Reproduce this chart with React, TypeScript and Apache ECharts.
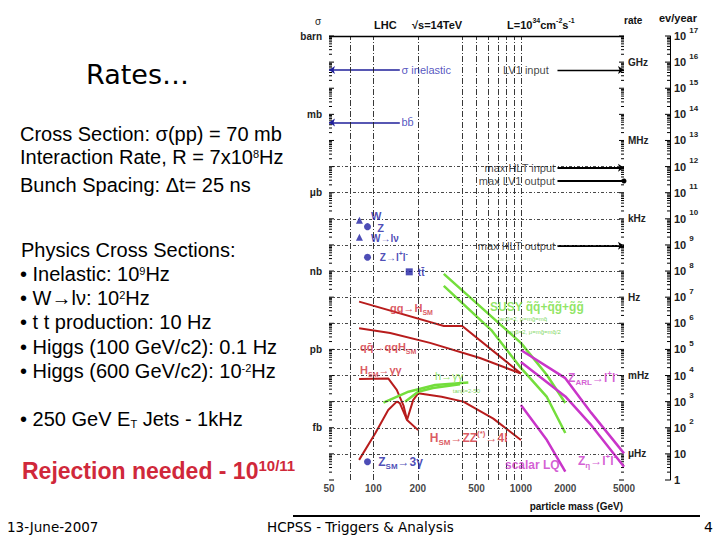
import React, { useEffect, useRef } from 'react';
import * as echarts from 'echarts';

// ---------------- axes ----------------
const massTickValues = [50, 100, 200, 500, 1000, 2000, 5000];
const massGridValues = [70, 100, 200, 400, 500, 600, 700, 800, 900, 1000];
const rateGridDecades = [1, 2, 3, 4, 5, 6, 7, 8, 9, 10, 11, 12];
const decadeMin = 0;
const decadeMax = 17;
const sigmaUnitDecades = [17, 14, 11, 8, 5, 2];
const sigmaUnitNames = ['barn', 'mb', 'μb', 'nb', 'pb', 'fb'];
const rateUnitDecades = [16, 13, 10, 7, 4, 1];
const rateUnitNames = ['GHz', 'MHz', 'kHz', 'Hz', 'mHz', 'μHz'];
const minorTickFactors = [2, 3, 4, 5, 6, 7, 8, 9];

// ---------------- data: [mass (GeV), log10(events / year)] ----------------
const ggToH = [[80, 6.83], [300, 5.9], [400, 5.9], [1000, 4.08]];
const qqToqqH = [[80, 5.81], [130, 5.63], [242, 5.25], [528, 4.67], [1000, 4.08]];
const hToGammaGamma = [[80, 3.87], [126, 3.89], [144, 3.45], [160, 2.85], [169, 2.3], [201, 1.91]];
const hToZZ = [[80, 0.77], [103, 1.79], [126, 2.68], [144, 3.0], [151, 2.94], [169, 2.3], [186, 3.06], [201, 3.32], [290, 3.19], [407, 3.0], [650, 2.35], [1000, 1.53]];
const mssmGammaGammaA = [[117, 2.96], [173, 3.38], [262, 3.64], [440, 3.73]];
const mssmGammaGammaB = [[164, 3.0], [201, 3.38], [253, 3.52], [386, 3.67]];
const susyA = [[300, 7.89], [1000, 5.25], [1500, 4.02], [2000, 2.95]];
const susyB = [[300, 7.43], [630, 5.74], [1000, 4.29], [1500, 3.18], [2000, 1.8]];
const zArl = [[1000, 4.98], [2000, 3.9], [3000, 2.57], [5000, 1.02]];
const zEta = [[1000, 4.52], [2000, 3.2], [3000, 2.1], [5000, 0.51]];
const scalarLQ = [[1000, 2.87], [1500, 1.53], [2000, 0.32]];

const wPoints = [[80.4, 9.95], [80.4, 9.29]]; // W, W→lν
const zPoints = [[91.2, 9.7], [91.2, 8.53], [91.2, 0.7]]; // Z, Z→ll, Z→3γ
const ttPoints = [[175, 7.97]];

// reference levels (log10 events / year) and arrow starts (GeV)
const sigmaInelasticLevel = 15.7;
const bbbarLevel = 13.69;
const lv1InputLevel = 15.7;
const maxHltInputLevel = 11.96;
const maxLv1OutputLevel = 11.45;
const maxHltOutputLevel = 8.97;
const leftArrowStart = 151;
const leftArrowEnd = 50;
const rightArrowStart = 1770;
const rightArrowEnd = 5000;

// annotation texts and their anchor in data coordinates
const annotations = [
  { text: 'σ inelastic', at: [155, 15.7], kind: 'blueThin' },
  { text: 'bb\u0304', at: [155, 13.69], kind: 'blueThin' },
  { text: 'LV1 input', at: [757, 15.7], kind: 'black' },
  { text: 'max HLT input', at: [1705, 11.96], kind: 'black', right: true },
  { text: 'max LV1 output', at: [1705, 11.45], kind: 'black', right: true },
  { text: 'max HLT output', at: [1705, 8.97], kind: 'black', right: true },
  { text: 'W', at: [96.4, 10.1], kind: 'blue' },
  { text: 'Z', at: [106, 9.66], kind: 'blue' },
  { text: 'W→lν', at: [96.4, 9.25], kind: 'blueSmall' },
  { text: 'Z→l{sup|+}l{sup|-}', at: [110.6, 8.52], kind: 'blueSmall' },
  { text: 'tt\u0304', at: [200, 7.96], kind: 'blueSmall' },
  { text: 'Z{sub|SM}→3γ', at: [107.8, 0.7], kind: 'blueBig' },
  { text: 'gg→H{sub|SM}', at: [129.6, 6.58], kind: 'red' },
  { text: 'qq\u0304→qqH{sub|SM}', at: [81.2, 5.1], kind: 'red' },
  { text: 'H{sub|SM}→γγ', at: [81.2, 4.21], kind: 'red' },
  { text: 'H{sub|SM}→ZZ{sup|(*)}→4l', at: [241, 1.61], kind: 'redBig' },
  { text: 'SUSY q\u0303q\u0303+q\u0303g\u0303+g\u0303g\u0303', at: [617, 6.63], kind: 'green' },
  { text: 'tanβ=2, μ=mg\u0303=mq\u0303', at: [699, 6.16], kind: 'greenTiny' },
  { text: 'tanβ=2, μ=mg\u0303=mq\u0303/2', at: [803, 5.68], kind: 'greenTiny' },
  { text: 'h→γγ', at: [262, 3.99], kind: 'greenSmall' },
  { text: 'tanβ=2-50', at: [345, 3.41], kind: 'greenTiny' },
  { text: 'Z{sub|ARL}→l{sup|+}l{sup|-}', at: [2090, 3.9], kind: 'magenta' },
  { text: 'scalar LQ', at: [780, 0.57], kind: 'magenta' },
  { text: 'Z{sub|η}→l{sup|+}l{sup|-}', at: [2437, 0.72], kind: 'magenta' },
];

const FONT = 'Liberation Sans';
const RED_LINE = '#b81c1c';
const RED_TEXT = '#d2303a';
const GREEN = '#74de3c';
const MAGENTA = '#c935c9';
const BLUE = '#2020a4';

const kindStyles: Record<string, any> = {
  blueThin: { color: '#2a2ab0', fontSize: 11, fontWeight: 'normal' },
  blue: { color: BLUE, fontSize: 11, fontWeight: 'bold' },
  blueSmall: { color: BLUE, fontSize: 10, fontWeight: 'bold' },
  blueBig: { color: BLUE, fontSize: 12, fontWeight: 'bold' },
  black: { color: '#111', fontSize: 11, fontWeight: 'normal' },
  red: { color: RED_TEXT, fontSize: 11, fontWeight: 'bold' },
  redBig: { color: RED_TEXT, fontSize: 12, fontWeight: 'bold' },
  green: { color: GREEN, fontSize: 12, fontWeight: 'bold' },
  greenSmall: { color: GREEN, fontSize: 11, fontWeight: 'normal' },
  greenTiny: { color: '#5ccc2c', fontSize: 6, fontWeight: 'normal' },
  magenta: { color: MAGENTA, fontSize: 12, fontWeight: 'bold' },
  axis: { color: '#111', fontSize: 10, fontWeight: 'bold' },
};

function richFor(size: number, weight: string) {
  const s = Math.max(5, Math.round(size * 0.68));
  return {
    sub: { fontSize: s, lineHeight: s, verticalAlign: 'bottom', fontWeight: weight, fontFamily: FONT },
    sup: { fontSize: s, lineHeight: s, verticalAlign: 'top', fontWeight: weight, fontFamily: FONT },
  };
}

function annotationItem(text: string, at: number[], kind: string, right?: boolean, below?: boolean) {
  const st = kindStyles[kind];
  const hasScript = text.indexOf('{') >= 0;
  return {
    value: at,
    label: {
      show: true,
      formatter: text,
      position: below ? 'bottom' : right ? 'left' : 'right',
      distance: below ? 3 : 0,
      color: st.color,
      fontSize: st.fontSize,
      fontWeight: st.fontWeight,
      fontFamily: FONT,
      lineHeight: st.fontSize + (hasScript ? 5 : 1),
      rich: richFor(st.fontSize, st.fontWeight),
    },
  };
}

function buildTicks() {
  const out: number[][] = [];
  for (let n = decadeMin; n <= decadeMax; n++) {
    for (let side = 0; side < 3; side++) {
      const edge = side === 0 ? massTickValues[0] : massTickValues[massTickValues.length - 1];
      out.push([edge, n, side, 1]);
      if (n < decadeMax) {
        minorTickFactors.forEach((k) => out.push([edge, n + Math.log10(k), side, 0]));
      }
    }
  }
  return out;
}

function labelAt(decades: number[], names: string[]) {
  return (v: number) => {
    const i = decades.indexOf(Math.round(v));
    return i >= 0 && Math.abs(v - Math.round(v)) < 1e-6 ? names[i] : '';
  };
}

function txt(x: number, y: number, text: string, font: string, fill: string, extra: any = {}) {
  const align = extra.align || 'left';
  return {
    type: 'text',
    x,
    y,
    scaleX: extra.scaleX || 1,
    z: 100,
    silent: true,
    style: {
      text,
      font,
      fill,
      align,
      textAlign: align,
      verticalAlign: 'middle',
      textVerticalAlign: 'middle',
      lineHeight: extra.lineHeight,
      rich: extra.rich,
    },
  };
}

const BODY_FONT = '20px "Liberation Sans"';
const supBody = { s: { font: '11px "Liberation Sans"', lineHeight: 10, verticalAlign: 'top' } };
const subBody = { t: { font: '11px "Liberation Sans"', lineHeight: 10, verticalAlign: 'bottom' } };

function buildOption() {
  const lineCurve = (data: number[][], color: string, width: number) => ({
    type: 'line',
    data,
    showSymbol: false,
    symbol: 'none',
    silent: true,
    z: 4,
    lineStyle: { color, width },
  });
  const arrowStyle = (color: string, width: number) => ({ color, width, opacity: 1, curveness: 0 });

  return {
    animation: false,
    backgroundColor: '#ffffff',
    textStyle: { fontFamily: FONT },
    grid: { left: 329, right: 96, top: 36, bottom: 60, containLabel: false },
    xAxis: {
      type: 'log',
      logBase: 10,
      min: massTickValues[0],
      max: massTickValues[massTickValues.length - 1],
      axisLine: { show: false },
      axisTick: { show: false },
      axisLabel: { show: false },
      splitLine: { show: false },
    },
    yAxis: [
      {
        type: 'value', min: decadeMin, max: decadeMax, interval: 1, position: 'left',
        axisLine: { show: false }, axisTick: { show: false }, splitLine: { show: false },
        axisLabel: { formatter: labelAt(sigmaUnitDecades, sigmaUnitNames), fontSize: 10, fontWeight: 'bold', color: '#222', margin: 7, fontFamily: FONT },
      },
      {
        type: 'value', min: decadeMin, max: decadeMax, interval: 1, position: 'right',
        axisLine: { show: false }, axisTick: { show: false }, splitLine: { show: false },
        axisLabel: { formatter: labelAt(rateUnitDecades, rateUnitNames), fontSize: 10, fontWeight: 'bold', color: '#222', margin: 4, fontFamily: FONT },
      },
      {
        type: 'value', min: decadeMin, max: decadeMax, interval: 1, position: 'right', offset: 46,
        axisLine: { show: true, lineStyle: { color: '#000', width: 1 } }, axisTick: { show: false }, splitLine: { show: false },
        axisLabel: {
          margin: 4,
          formatter: (v: number) => (v === 0 ? '{b|1}' : v === 1 ? '{b|10}' : '{b|10}{s|' + v + '}'),
          rich: {
            b: { fontSize: 11, fontWeight: 'bold', fontFamily: FONT, color: '#222', lineHeight: 20 },
            s: { fontSize: 8, fontWeight: 'bold', fontFamily: FONT, color: '#222', lineHeight: 8, verticalAlign: 'top', padding: [0, 0, 0, 3] },
          },
        },
      },
    ],
    series: [
      {
        type: 'custom',
        name: 'ticks',
        silent: true,
        clip: false,
        z: 3,
        data: buildTicks(),
        encode: { x: 0, y: 1 },
        renderItem: (params: any, api: any) => {
          const p = api.coord([api.value(0), api.value(1)]);
          const side = api.value(2);
          const len = api.value(3) ? 5 : 3;
          let x0 = p[0];
          let x1 = p[0] + len;
          if (side === 1) { x0 = p[0] - len; x1 = p[0]; }
          if (side === 2) { x0 = p[0] + 46 - len; x1 = p[0] + 46; }
          return { type: 'line', shape: { x1: x0, y1: p[1], x2: x1, y2: p[1] }, style: { stroke: '#000', lineWidth: 1 } };
        },
      },
      {
        type: 'scatter',
        name: 'W',
        data: wPoints,
        symbol: 'triangle',
        symbolSize: 7,
        itemStyle: { color: BLUE },
        silent: true,
        z: 5,
        markLine: {
          silent: true,
          symbol: ['none', 'none'],
          label: { show: false },
          animation: false,
          data: [
            ...massGridValues.map((m) => ({ xAxis: m, lineStyle: { type: [6, 2, 1, 2], color: '#222', width: 0.9 } })),
            ...rateGridDecades.map((d) => ({ yAxis: d, lineStyle: { type: [3, 2, 1, 2], color: '#333', width: 0.9 } })),
            { yAxis: decadeMax, lineStyle: { type: 'solid', color: '#000', width: 1.3 } },
          ],
        },
      },
      { type: 'scatter', name: 'Z', data: zPoints, symbol: 'circle', symbolSize: 7, itemStyle: { color: BLUE }, silent: true, z: 5 },
      { type: 'scatter', name: 'tt', data: ttPoints, symbol: 'rect', symbolSize: 7, itemStyle: { color: BLUE }, silent: true, z: 5 },
      lineCurve(hToGammaGamma, RED_LINE, 2),
      lineCurve(hToZZ, RED_LINE, 2),
      lineCurve(mssmGammaGammaA, GREEN, 2.5),
      lineCurve(mssmGammaGammaB, GREEN, 2.5),
      lineCurve(susyA, GREEN, 2.5),
      lineCurve(susyB, GREEN, 2.5),
      lineCurve(zArl, MAGENTA, 2.5),
      lineCurve(zEta, MAGENTA, 2.5),
      lineCurve(scalarLQ, MAGENTA, 2.5),
      {
        type: 'lines', coordinateSystem: 'cartesian2d', polyline: true, clip: false, silent: true, z: 4,
        symbol: ['none', 'arrow'], symbolSize: 8,
        lineStyle: arrowStyle(RED_LINE, 2),
        data: [{ coords: ggToH }, { coords: qqToqqH }],
      },
      {
        type: 'lines', coordinateSystem: 'cartesian2d', clip: false, silent: true, z: 4,
        symbol: ['none', 'arrow'], symbolSize: 6,
        lineStyle: arrowStyle('#1f1f9a', 1.5),
        data: [
          { coords: [[leftArrowStart, sigmaInelasticLevel], [leftArrowEnd, sigmaInelasticLevel]] },
          { coords: [[leftArrowStart, bbbarLevel], [leftArrowEnd, bbbarLevel]] },
        ],
      },
      {
        type: 'lines', coordinateSystem: 'cartesian2d', clip: false, silent: true, z: 4,
        symbol: ['none', 'arrow'], symbolSize: 6,
        lineStyle: arrowStyle('#000', 2),
        data: [
          { coords: [[rightArrowStart, lv1InputLevel], [rightArrowEnd, lv1InputLevel]], lineStyle: { width: 1.3 } },
          { coords: [[rightArrowStart, maxHltInputLevel], [rightArrowEnd, maxHltInputLevel]] },
          { coords: [[rightArrowStart, maxHltOutputLevel], [rightArrowEnd, maxHltOutputLevel]] },
        ],
      },
      {
        type: 'lines', coordinateSystem: 'cartesian2d', clip: false, silent: true, z: 4,
        symbol: ['none', 'circle'], symbolSize: 5,
        lineStyle: arrowStyle('#000', 2),
        data: [{ coords: [[rightArrowStart, maxLv1OutputLevel], [rightArrowEnd, maxLv1OutputLevel]] }],
      },
      {
        type: 'scatter',
        name: 'annotations',
        symbolSize: 0,
        silent: true,
        clip: false,
        z: 10,
        itemStyle: { color: 'rgba(0,0,0,0)' },
        data: [
          ...annotations.map((a) => annotationItem(a.text, a.at, a.kind, a.right)),
          ...massTickValues.map((m) => annotationItem(String(m), [m, decadeMin], 'axis', false, true)),
        ],
      },
    ],
    graphic: [
      txt(86, 74, 'Rates…', '27px "DejaVu Sans"', '#000'),
      txt(20, 134, 'Cross Section: σ(pp) = 70 mb', BODY_FONT, '#000'),
      txt(20, 157, 'Interaction Rate, R = 7x10{s|8}Hz', BODY_FONT, '#000', { rich: supBody, lineHeight: 18 }),
      txt(20, 185, 'Bunch Spacing: Δt= 25 ns', BODY_FONT, '#000'),
      txt(21, 250, 'Physics Cross Sections:', BODY_FONT, '#000'),
      txt(20, 274, '• Inelastic: 10{s|9}Hz', BODY_FONT, '#000', { rich: supBody, lineHeight: 18 }),
      txt(20, 298, '• W→lν: 10{s|2}Hz', BODY_FONT, '#000', { rich: supBody, lineHeight: 18 }),
      txt(20, 322, '• t t production: 10 Hz', BODY_FONT, '#000'),
      txt(20, 347, '• Higgs (100 GeV/c2): 0.1 Hz', BODY_FONT, '#000'),
      txt(20, 371, '• Higgs (600 GeV/c2): 10{s|-2}Hz', BODY_FONT, '#000', { rich: supBody, lineHeight: 18 }),
      txt(20, 419, '• 250 GeV E{t|T} Jets - 1kHz', BODY_FONT, '#000', { rich: subBody, lineHeight: 20 }),
      txt(22, 471, 'Rejection needed - 10{s|10/11}', 'bold 23px "Liberation Sans"', '#d0283a', {
        lineHeight: 27,
        rich: { s: { font: 'bold 15px "Liberation Sans"', lineHeight: 15, verticalAlign: 'top' } },
      }),
      txt(7, 527, '13-June-2007', '14px "DejaVu Sans"', '#000', { scaleX: 0.965 }),
      txt(267, 527, 'HCPSS - Triggers & Analysis', '14px "DejaVu Sans"', '#000', { scaleX: 0.965 }),
      txt(713, 527, '4', '14px "DejaVu Sans"', '#000', { align: 'right' }),
      { type: 'line', z: 100, silent: true, shape: { x1: 293, y1: 516, x2: 700, y2: 516 }, style: { stroke: '#000', lineWidth: 2 } },
      txt(318, 21, 'σ', '10px "Liberation Sans"', '#222', { align: 'center' }),
      txt(374, 25, 'LHC', 'bold 11px "Liberation Sans"', '#111'),
      txt(412, 25, '√s=14TeV', 'bold 11px "Liberation Sans"', '#111'),
      txt(507, 25, 'L=10{s|34}cm{s|-2}s{s|-1}', 'bold 11px "Liberation Sans"', '#111', {
        lineHeight: 16,
        rich: { s: { font: 'bold 7px "Liberation Sans"', lineHeight: 7, verticalAlign: 'top' } },
      }),
      txt(624, 20, 'rate', 'bold 10px "Liberation Sans"', '#111'),
      txt(659, 18, 'ev/year', 'bold 11px "Liberation Sans"', '#111'),
      txt(623, 506, 'particle mass (GeV)', 'bold 10px "Liberation Sans"', '#111', { align: 'right' }),
    ],
  };
}

export default function App() {
  const ref = useRef<HTMLDivElement>(null);
  useEffect(() => {
    if (!ref.current) return;
    const chart = echarts.init(ref.current, null, { renderer: 'svg', width: 720, height: 540 });
    chart.setOption(buildOption() as any);
    return () => chart.dispose();
  }, []);
  return (
    <div
      ref={ref}
      style={{ position: 'absolute', left: 0, top: 0, width: 720, height: 540, background: '#fff' }}
    />
  );
}
